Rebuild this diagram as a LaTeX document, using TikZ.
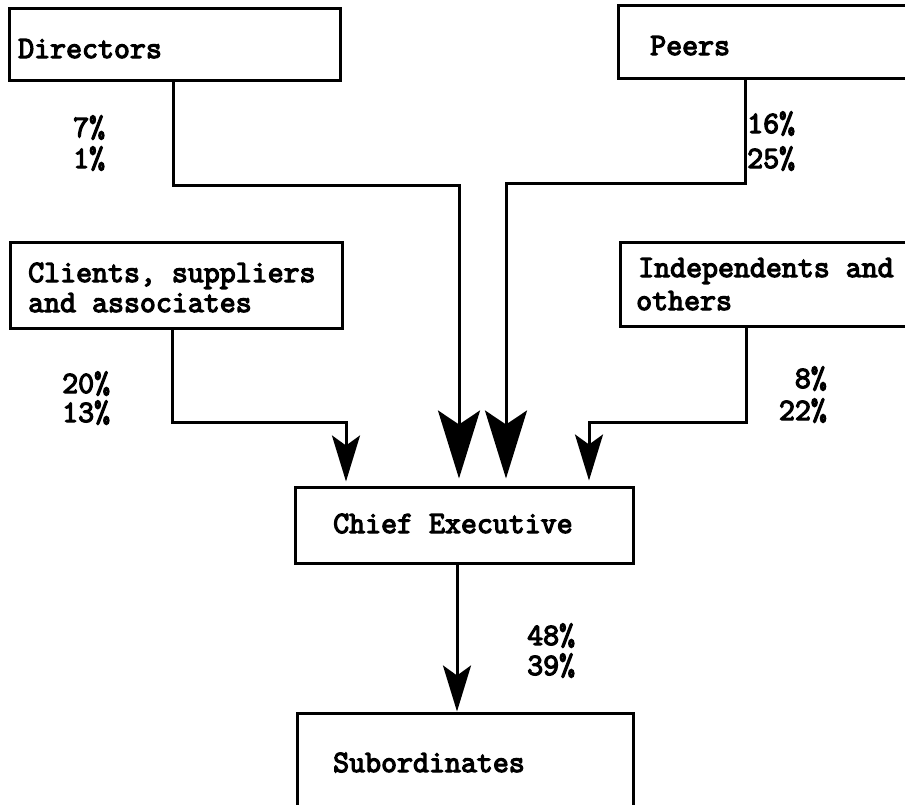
\documentclass[tikz,border=0pt]{standalone}
\usepackage{fontspec}
\newfontfamily\twfont[FakeBold=4]{Latin Modern Mono}
\usetikzlibrary{arrows.meta,calc}
\begin{document}
\begin{tikzpicture}[x=1pt,y=-1pt,
  box/.style={draw,line width=3pt,rectangle,inner sep=0pt},
  lbl/.style={anchor=base west,inner sep=0pt,font=\twfont\fontsize{31}{31}\selectfont},
  lblr/.style={lbl,anchor=base east},
  conn/.style={line width=3pt},
  bigarr/.style={conn,-{Stealth[length=68pt,width=42pt,inset=14pt]}},
  smallarr/.style={conn,-{Stealth[length=46pt,width=28pt,inset=10pt]}}]
\useasboundingbox (0,0) rectangle (905,804);
% boxes
\node[box,minimum width=331pt,minimum height=72pt] (dir) at (174.5,44) {};
\node[box,minimum width=302pt,minimum height=73pt] (peer) at (769,41.5) {};
\node[box,minimum width=332pt,minimum height=86pt] (cli) at (176,285) {};
\node[box,minimum width=300pt,minimum height=84pt] (ind) at (770,284) {};
\node[box,minimum width=338pt,minimum height=76pt] (ce) at (464,525) {};
\node[box,minimum width=336pt,minimum height=107pt] (sub) at (465,766.5) {};
% box texts
\node[lbl] (tdir) at (18,58) {Directors};
\node[lbl] (tpeer) at (650,55) {Peers};
\node[lbl] (tcli1) at (28,282) {Clients, suppliers};
\node[lbl] (tcli2) at (28,312) {and associates};
\node[lbl] (tind1) at (638,277) {Independents and};
\node[lbl] (tind2) at (636,310) {others};
\node[lbl] (tce) at (333,533) {Chief Executive};
\node[lbl] (tsub) at (333,772) {Subordinates};
% percentages
\node[lbl] (p7) at (73,137) {7\%};
\node[lbl] (p1) at (73,168) {1\%};
\node[lbl] (p16) at (747,133) {16\%};
\node[lbl] (p25) at (747,168) {25\%};
\node[lbl] (p20) at (62,393) {20\%};
\node[lbl] (p13) at (62,422) {13\%};
\node[lblr] (p8) at (827,388) {8\%};
\node[lblr] (p22) at (827,420) {22\%};
\node[lbl] (p48) at (527,645) {48\%};
\node[lbl] (p39) at (527,675) {39\%};
% bend points and tip columns
\coordinate (db) at (173,185);
\coordinate (pb) at (745,183);
\coordinate (cb) at (172,422);
\coordinate (ib) at (746,422);
\coordinate (dt) at (459,480);
\coordinate (pt) at (506,480);
\coordinate (ct) at (346,483);
\coordinate (it) at (589,482);
\coordinate (st) at (457,713);
% connectors
\draw[bigarr,shorten >=7pt] (dir.south -| db) -- (db) -| (ce.north -| dt);
\draw[bigarr,shorten >=7pt] (peer.south -| pb) -- (pb) -| (ce.north -| pt);
\draw[smallarr,shorten >=4pt] (cli.south -| cb) -- (cb) -| (ce.north -| ct);
\draw[smallarr,shorten >=5pt] (ind.south -| ib) -- (ib) -| (ce.north -| it);
\draw[smallarr] (ce.south -| st) -- (sub.north -| st);
\end{tikzpicture}
\end{document}
